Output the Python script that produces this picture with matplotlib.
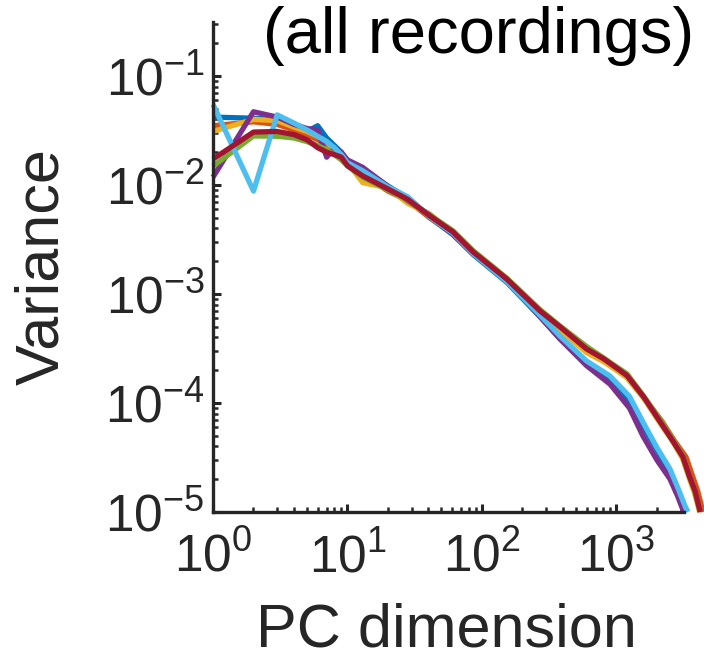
import matplotlib
matplotlib.use("Agg")
import matplotlib.pyplot as plt
from matplotlib.ticker import LogLocator, LogFormatterSciNotation, NullFormatter

plt.rcParams["font.family"] = ["Liberation Sans", "DejaVu Sans"]
plt.rcParams["mathtext.fontset"] = "custom"
plt.rcParams["mathtext.rm"] = "Liberation Sans"
plt.rcParams["mathtext.it"] = "Liberation Sans:italic"
plt.rcParams["mathtext.default"] = "regular"

# PC index for the leading part of every spectrum
pc_main = [1, 2, 3, 4, 5, 6, 7, 8, 9, 10, 13, 20, 28, 41, 61, 86, 153, 270, 380, 600]

blue_var = [0.042, 0.041, 0.040, 0.034, 0.031, 0.035, 0.027, 0.023, 0.020, 0.016,
            0.0140, 0.0098, 0.0076, 0.0050, 0.0035, 0.0023, 0.00128, 6.2e-4, 3.9e-4, 2.3e-4]
blue_tail_pc = [895, 1250, 1574, 2000, 2410, 2800, 3070, 3230]
blue_tail_var = [1.63e-4, 1.05e-4, 6.15e-5, 3.7e-5, 2.38e-5, 1.6e-5, 1.14e-5, 1.0e-5]

orange_var = [0.035, 0.038, 0.036, 0.032, 0.029, 0.026, 0.024, 0.021, 0.018, 0.016,
              0.0125, 0.0088, 0.0072, 0.0050, 0.0036, 0.0024, 0.00135, 6.9e-4, 4.9e-4, 3.1e-4]
orange_tail_pc = [800, 1000, 1200, 1600, 2180, 2700, 3290, 3700, 4020, 4400]
orange_tail_var = [2.5e-4, 2.05e-4, 1.72e-4, 1.12e-4, 6.8e-5, 4.5e-5, 3.2e-5, 2.1e-5, 1.56e-5, 1.0e-5]

yellow_var = [0.031, 0.040, 0.039, 0.034, 0.031, 0.028, 0.025, 0.021, 0.019, 0.016,
              0.0105, 0.0094, 0.0068, 0.0054, 0.0036, 0.00238, 0.00134, 6.8e-4, 4.7e-4, 2.9e-4]
yellow_tail_pc = [800, 1000, 1200, 1600, 2100, 2600, 3100, 3500, 3800, 4150]
yellow_tail_var = [2.4e-4, 2.0e-4, 1.7e-4, 1.1e-4, 6.6e-5, 4.5e-5, 3.1e-5, 2.0e-5, 1.5e-5, 1.0e-5]

purple_var = [0.0118, 0.047, 0.042, 0.036, 0.033, 0.032, 0.018, 0.022, 0.020, 0.017,
              0.0145, 0.0097, 0.0072, 0.0053, 0.0035, 0.00235, 0.00132, 6.2e-4, 3.87e-4, 2.2e-4]
purple_tail_pc = [895, 1250, 1574, 2000, 2500, 2850, 3120, 3180]
purple_tail_var = [1.49e-4, 9.0e-5, 4.98e-5, 3.0e-5, 2.01e-5, 1.4e-5, 1.05e-5, 1.0e-5]

green_var = [0.0149, 0.0282, 0.028, 0.027, 0.025, 0.023, 0.021, 0.019, 0.017, 0.015,
             0.0118, 0.0090, 0.0073, 0.0053, 0.0038, 0.0025, 0.0014, 7.2e-4, 5.1e-4, 3.3e-4]
green_tail_pc = [800, 1000, 1200, 1600, 2100, 2600, 3120, 3500, 3840, 4200]
green_tail_var = [2.6e-4, 2.15e-4, 1.85e-4, 1.15e-4, 7.1e-5, 4.7e-5, 3.27e-5, 2.1e-5, 1.56e-5, 1.0e-5]

lightblue_var = [0.055, 0.0088, 0.044, 0.037, 0.032, 0.028, 0.025, 0.022, 0.019, 0.016,
                 0.0135, 0.0096, 0.0078, 0.0051, 0.0036, 0.00235, 0.0013, 6.4e-4, 4.12e-4, 2.43e-4]
lightblue_tail_pc = [895, 1250, 1574, 2000, 2500, 2900, 3230, 3400]
lightblue_tail_var = [1.77e-4, 1.15e-4, 6.7e-5, 3.9e-5, 2.48e-5, 1.6e-5, 1.14e-5, 1.0e-5]

red_var = [0.0173, 0.0306, 0.031, 0.029, 0.026, 0.022, 0.020, 0.019, 0.018, 0.015,
           0.0121, 0.0092, 0.0074, 0.0052, 0.0037, 0.00243, 0.00137, 7.0e-4, 5.0e-4, 3.13e-4]
red_tail_pc = [800, 1000, 1200, 1600, 2100, 2590, 3120, 3500, 3840, 4200]
red_tail_var = [2.55e-4, 2.1e-4, 1.78e-4, 1.13e-4, 6.8e-5, 4.6e-5, 3.2e-5, 2.1e-5, 1.56e-5, 1.0e-5]

series = [
    (blue_var, blue_tail_pc, blue_tail_var, (0, 0.447, 0.741)),
    (orange_var, orange_tail_pc, orange_tail_var, (0.85, 0.325, 0.098)),
    (yellow_var, yellow_tail_pc, yellow_tail_var, (0.929, 0.694, 0.125)),
    (purple_var, purple_tail_pc, purple_tail_var, (0.494, 0.184, 0.556)),
    (green_var, green_tail_pc, green_tail_var, (0.466, 0.674, 0.188)),
    (lightblue_var, lightblue_tail_pc, lightblue_tail_var, (0.301, 0.745, 0.933)),
    (red_var, red_tail_pc, red_tail_var, (0.635, 0.078, 0.184)),
]

fig = plt.figure(figsize=(7.04, 6.61), dpi=100)
ax = fig.add_axes([213 / 704, 1 - 512 / 661, 471 / 704, 490 / 661])

for v, tpc, tv, c in series:
    ax.plot(pc_main + tpc, v + tv, color=c, lw=3.8, solid_joinstyle="round",
            solid_capstyle="butt", clip_on=False)

ax.set_xscale("log")
ax.set_yscale("log")
ax.set_xlim(1, 3180)
ax.set_ylim(1e-5, 0.313)

ax.xaxis.set_major_locator(LogLocator(base=10, numticks=10))
ax.yaxis.set_major_locator(LogLocator(base=10, numticks=10))
ax.xaxis.set_minor_locator(LogLocator(base=10, subs=range(2, 10), numticks=20))
ax.yaxis.set_minor_locator(LogLocator(base=10, subs=range(2, 10), numticks=20))
ax.xaxis.set_major_formatter(LogFormatterSciNotation())
ax.yaxis.set_major_formatter(LogFormatterSciNotation())
ax.xaxis.set_minor_formatter(NullFormatter())
ax.yaxis.set_minor_formatter(NullFormatter())

gray = (0.15, 0.15, 0.15)
for s in ["top", "right"]:
    ax.spines[s].set_visible(False)
for s in ["left", "bottom"]:
    ax.spines[s].set_linewidth(2.4)
    ax.spines[s].set_color(gray)

ax.tick_params(which="major", direction="in", length=6, width=2.2, color=gray,
               labelsize=37, labelcolor=gray, pad=6)
ax.tick_params(which="minor", direction="in", length=3.5, width=1.8, color=gray)
ax.tick_params(axis="x", which="major", pad=15)

ax.set_xlabel("PC dimension", fontsize=44, color=gray)
ax.set_ylabel("Variance", fontsize=44, color=gray)
ax.xaxis.set_label_coords(0.495, -0.185)
ax.yaxis.set_label_coords(-0.30, 0.5)

fig.text(479 / 704, 1 - 36 / 661, "(all recordings)", fontsize=47,
         ha="center", va="center", color="black")

fig.savefig("out.png", dpi=100)
